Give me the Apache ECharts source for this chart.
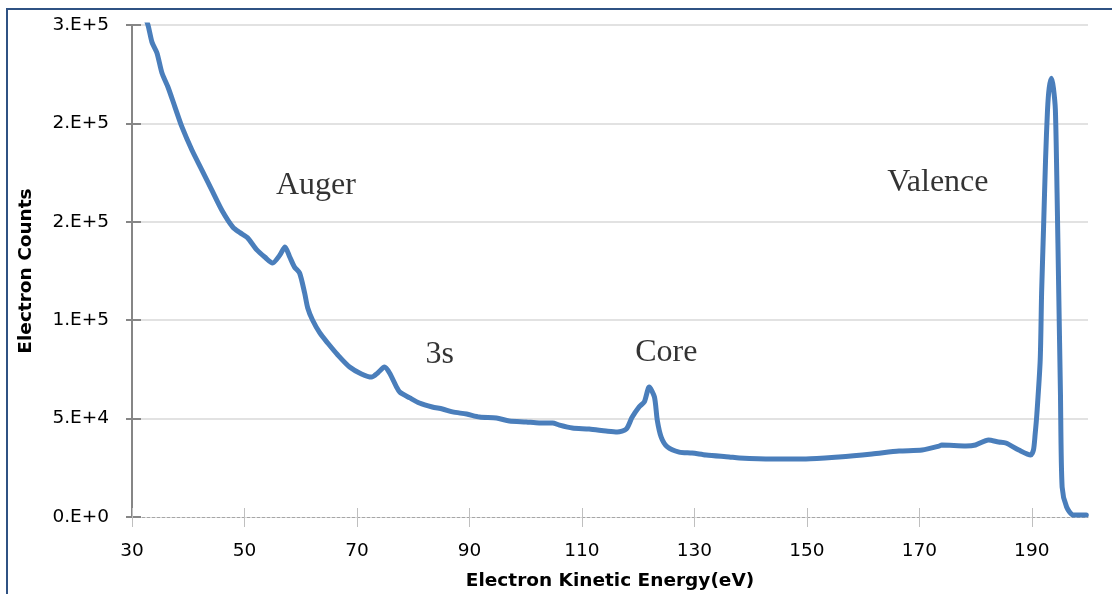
<!DOCTYPE html>
<html>
<head>
<meta charset="utf-8">
<script src="https://cdn.jsdelivr.net/npm/echarts@6/dist/echarts.min.js"></script>
<style>
  html, body { margin: 0; padding: 0; background: #ffffff; }
  #chart { width: 1112px; height: 594px; }
</style>
</head>
<body>
<div id="chart"></div>
<script>
// Photoelectron spectrum: kinetic energy (eV) vs electron counts
const energy = [
  32.0, 32.84, 33.55, 34.44, 35.33, 36.39, 37.64, 38.88, 40.65, 42.43,
  44.2, 45.98, 47.93, 49.2, 50.5, 52.2, 53.6, 55.0, 56.3, 57.2,
  58.05, 58.9, 59.8, 60.7, 61.25, 62.1, 63.4, 64.8, 66.6, 68.7,
  70.8, 72.6, 73.7, 74.9, 75.8, 77.05, 77.6, 79.4, 81.1, 83.4,
  85.2, 87.0, 89.5, 91.8, 94.8, 97.1, 100.1, 102.4, 104.8, 106.0,
  108.3, 111.3, 114.3, 116.3, 117.9, 118.9, 120.2, 121.1, 121.97, 122.9,
  123.4, 124.1, 125.2, 127.3, 129.6, 132.1, 136.2, 138.0, 143.8, 149.85,
  155.7, 161.6, 166.4, 170.5, 173.5, 174.0, 178.3, 180.0, 182.3, 184.1,
  185.4, 187.7, 189.8, 190.3, 190.6, 190.9, 191.5, 191.75, 192.1, 192.45,
  192.8, 193.1, 193.5, 193.85, 194.2, 194.5, 194.8, 195.1, 195.4, 196.2,
  197.4, 199.7
];
const counts = [
  256500, 250000, 241300, 235800, 225600, 218500, 208300, 198200, 186500, 176300,
  166100, 155900, 147300, 144500, 142000, 135700, 132100, 129100, 133100, 137200,
  132100, 127000, 124000, 113800, 106200, 100100, 93500, 88400, 82300, 76200,
  72700, 71100, 73200, 76200, 73200, 66000, 63500, 60500, 57900, 55900,
  54900, 53400, 52300, 50800, 50300, 48800, 48300, 47800, 47800, 46700,
  45200, 44700, 43700, 43200, 44700, 50500, 56000, 58500, 66000, 61000,
  49300, 40600, 35600, 33000, 32500, 31500, 30500, 30000, 29500, 29500,
  30500, 32000, 33500, 34000, 36000, 36600, 36100, 36600, 39100, 38100,
  37600, 34000, 31500, 34000, 42000, 52000, 79700, 113800, 147300, 181400,
  206800, 218000, 223000, 218000, 206800, 164700, 113800, 63000, 15200, 5100,
  1000, 1000
];

// Axis ticks and their printed labels
const xTicks = [30, 50, 70, 90, 110, 130, 150, 170, 190];
const yTicks = [0, 50000, 100000, 150000, 200000, 250000];
const yTickLabels = ['0.E+0', '5.E+4', '1.E+5', '2.E+5', '2.E+5', '3.E+5'];

// Peak annotations (data coordinates)
const annoText = ['Auger', '3s', 'Core', 'Valence'];
const annoX = [62.7, 84.7, 125.0, 173.3];
const annoY = [168200, 82300, 83300, 169700];

const sans = '"DejaVu Sans", Verdana, sans-serif';
const axisGray = '#868686';

const chart = echarts.init(document.getElementById('chart'), null, { renderer: 'canvas' });

const xAxisBase = {
  type: 'value',
  min: 30,
  max: 200,
  interval: 20,
  splitLine: { show: false }
};
const yAxisBase = {
  type: 'value',
  min: 0,
  max: 250000,
  interval: 50000
};

chart.setOption({
  animation: false,
  backgroundColor: '#ffffff',
  grid: { left: 132, top: 25, right: 24, bottom: 77, containLabel: false, outerBoundsMode: 'none' },
  graphic: [{
    type: 'rect',
    silent: true,
    shape: { x: 7, y: 9, width: 1300, height: 800 },
    style: { fill: 'none', stroke: '#2f5283', lineWidth: 2 }
  }],
  xAxis: [
    Object.assign({}, xAxisBase, {
      name: 'Electron Kinetic Energy(eV)',
      nameLocation: 'middle',
      nameGap: 55,
      nameTextStyle: { fontFamily: sans, fontWeight: 'bold', fontSize: 18.5, color: '#000' },
      axisLine: { show: true, onZero: false, lineStyle: { color: '#a6a6a6', width: 1, type: [3, 2] } },
      axisTick: { show: true, inside: false, length: 10, customValues: xTicks, lineStyle: { color: '#bfbfbf', width: 1 } },
      axisLabel: { customValues: xTicks, margin: 25, fontFamily: sans, fontSize: 18.5, color: '#000' }
    }),
    Object.assign({}, xAxisBase, {
      position: 'bottom',
      axisLine: { show: false },
      axisTick: { show: true, inside: true, length: 9, customValues: xTicks, lineStyle: { color: '#bfbfbf', width: 1 } },
      axisLabel: { show: false }
    })
  ],
  yAxis: [
    Object.assign({}, yAxisBase, {
      name: 'Electron Counts',
      nameLocation: 'middle',
      nameGap: 96,
      nameTextStyle: { fontFamily: sans, fontWeight: 'bold', fontSize: 18.5, color: '#000' },
      axisLine: { show: true, lineStyle: { color: axisGray, width: 2 } },
      axisTick: { show: true, inside: false, length: 6, lineStyle: { color: axisGray, width: 2 } },
      axisLabel: {
        margin: 23,
        fontFamily: sans,
        fontSize: 18.5,
        color: '#000',
        formatter: (v) => yTickLabels[yTicks.indexOf(v)]
      },
      splitLine: { show: true, showMinLine: false, lineStyle: { color: '#d9d9d9', width: 1.5 } }
    }),
    Object.assign({}, yAxisBase, {
      position: 'left',
      axisLine: { show: false },
      axisTick: { show: true, inside: true, length: 9, lineStyle: { color: axisGray, width: 2 } },
      axisLabel: { show: false },
      splitLine: { show: false }
    })
  ],
  series: [
    {
      type: 'line',
      xAxisIndex: 0,
      yAxisIndex: 0,
      data: energy.map((e, i) => [e, counts[i]]),
      showSymbol: false,
      smooth: 0.25,
      clip: true,
      lineStyle: { color: '#4a7ebb', width: 5, cap: 'round', join: 'round' },
      z: 3
    },
    {
      type: 'scatter',
      silent: true,
      xAxisIndex: 0,
      yAxisIndex: 0,
      symbolSize: 1,
      itemStyle: { color: 'rgba(0,0,0,0)' },
      data: annoText.map((t, i) => ({ value: [annoX[i], annoY[i]], name: t })),
      label: {
        show: true,
        position: 'inside',
        formatter: (p) => p.name,
        fontFamily: '"Liberation Serif", "Times New Roman", serif',
        fontSize: 32,
        color: '#000'
      },
      z: 4
    }
  ]
});
</script>
</body>
</html>
